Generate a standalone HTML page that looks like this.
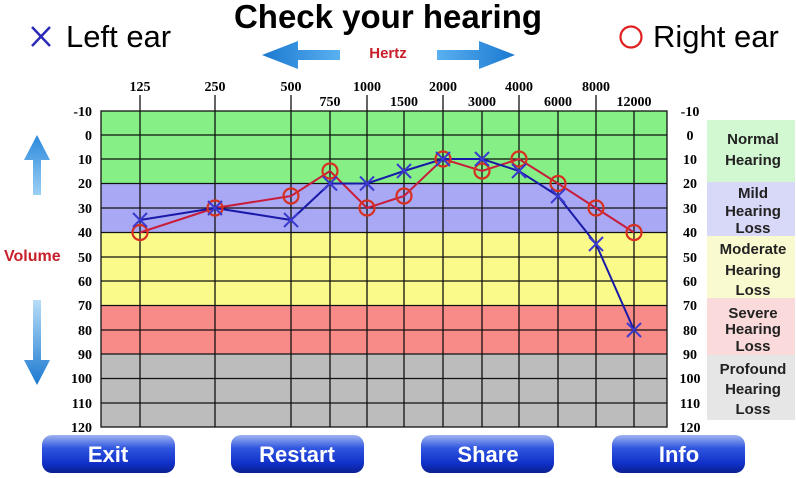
<!DOCTYPE html>
<html><head><meta charset="utf-8"><style>
html,body{margin:0;padding:0;background:#fff;}
svg{display:block;}
</style></head><body>
<svg width="796" height="478" viewBox="0 0 796 478" xmlns="http://www.w3.org/2000/svg">
<defs>
<linearGradient id="btn" x1="0" y1="0" x2="0" y2="1">
<stop offset="0" stop-color="#9fb4f0"/><stop offset="0.35" stop-color="#2f55e0"/><stop offset="0.75" stop-color="#1030c8"/><stop offset="1" stop-color="#0a1f90"/>
</linearGradient>
<linearGradient id="arr" x1="0" y1="0" x2="1" y2="0">
<stop offset="0" stop-color="#1a78d0"/><stop offset="1" stop-color="#5ab0f0"/>
</linearGradient>
<linearGradient id="arr2" x1="0" y1="0" x2="1" y2="0">
<stop offset="0" stop-color="#5ab0f0"/><stop offset="1" stop-color="#1a78d0"/>
</linearGradient>
<linearGradient id="arrv" x1="0" y1="0" x2="0" y2="1">
<stop offset="0" stop-color="#2a88dc"/><stop offset="1" stop-color="#9cd0f5"/>
</linearGradient>
<linearGradient id="arrv2" x1="0" y1="0" x2="0" y2="1">
<stop offset="0" stop-color="#b8def8"/><stop offset="1" stop-color="#1a78d0"/>
</linearGradient>
</defs>
<g font-family="Liberation Sans, sans-serif">
<text x="388" y="28" text-anchor="middle" font-size="33" font-weight="bold">Check your hearing</text>
<text x="388" y="58" text-anchor="middle" font-size="15" font-weight="bold" fill="#c8202a">Hertz</text>
<text x="66" y="47" font-size="31">Left ear</text>
<text x="653" y="47" font-size="31">Right ear</text>
<text x="4" y="261" font-size="16" font-weight="bold" fill="#c8202a">Volume</text>
</g>
<g stroke="#2b2bb8" stroke-width="2.5"><line x1="32" y1="27" x2="50" y2="46"/><line x1="50" y1="27" x2="32" y2="46"/></g>
<circle cx="631" cy="37" r="10.5" fill="none" stroke="#e02020" stroke-width="2.2"/>
<polygon points="262,55 298,41 298,50 340,50 340,60 298,60 298,69" fill="url(#arr)"/>
<polygon points="515,55 479,41 479,50 437,50 437,60 479,60 479,69" fill="url(#arr2)"/>
<polygon points="37,135 50,160 41,160 41,195 33,195 33,160 24,160" fill="url(#arrv)"/>
<polygon points="37,385 50,360 41,360 41,300 33,300 33,360 24,360" fill="url(#arrv2)"/>
<rect x="101" y="111" width="566" height="72.5" fill="#86f086"/>
<rect x="101" y="183.5" width="566" height="49" fill="#a8a8f4"/>
<rect x="101" y="232.5" width="566" height="73" fill="#fafa8a"/>
<rect x="101" y="305.5" width="566" height="48.5" fill="#f88a88"/>
<rect x="101" y="354" width="566" height="73" fill="#bcbcbc"/>
<g stroke="#111" stroke-width="1.3" fill="none">
<rect x="101" y="111" width="566" height="316"/>
<line x1="101" y1="135" x2="667" y2="135"/><line x1="101" y1="159" x2="667" y2="159"/>
<line x1="101" y1="183.5" x2="667" y2="183.5"/><line x1="101" y1="208" x2="667" y2="208"/>
<line x1="101" y1="232.5" x2="667" y2="232.5"/><line x1="101" y1="257" x2="667" y2="257"/>
<line x1="101" y1="281" x2="667" y2="281"/><line x1="101" y1="305.5" x2="667" y2="305.5"/>
<line x1="101" y1="330" x2="667" y2="330"/><line x1="101" y1="354" x2="667" y2="354"/>
<line x1="101" y1="378.5" x2="667" y2="378.5"/><line x1="101" y1="403" x2="667" y2="403"/>
<line x1="140" y1="95" x2="140" y2="427"/><line x1="215" y1="95" x2="215" y2="427"/>
<line x1="291" y1="95" x2="291" y2="427"/><line x1="330" y1="111" x2="330" y2="427"/>
<line x1="367" y1="95" x2="367" y2="427"/><line x1="404" y1="111" x2="404" y2="427"/>
<line x1="443" y1="95" x2="443" y2="427"/><line x1="482" y1="111" x2="482" y2="427"/>
<line x1="519" y1="95" x2="519" y2="427"/><line x1="558" y1="111" x2="558" y2="427"/>
<line x1="596" y1="95" x2="596" y2="427"/><line x1="634" y1="111" x2="634" y2="427"/>
</g>
<g font-family="Liberation Serif, serif" font-weight="bold" font-size="14" text-anchor="middle">
<text x="140" y="91">125</text><text x="215" y="91">250</text><text x="291" y="91">500</text><text x="367" y="91">1000</text><text x="443" y="91">2000</text><text x="519" y="91">4000</text><text x="596" y="91">8000</text>
<text x="330" y="106">750</text><text x="404" y="106">1500</text><text x="482" y="106">3000</text><text x="558" y="106">6000</text><text x="634" y="106">12000</text>
</g>
<g font-family="Liberation Serif, serif" font-weight="bold" font-size="14" text-anchor="end">
<text x="92" y="116">-10</text><text x="92" y="140">0</text><text x="92" y="164">10</text><text x="92" y="188">20</text><text x="92" y="213">30</text><text x="92" y="237">40</text><text x="92" y="262">50</text><text x="92" y="286">60</text><text x="92" y="310">70</text><text x="92" y="335">80</text><text x="92" y="359">90</text><text x="92" y="383">100</text><text x="92" y="408">110</text><text x="92" y="432">120</text>
</g>
<g font-family="Liberation Serif, serif" font-weight="bold" font-size="14" text-anchor="middle">
<text x="690" y="116">-10</text><text x="690" y="140">0</text><text x="690" y="164">10</text><text x="690" y="188">20</text><text x="690" y="213">30</text><text x="690" y="237">40</text><text x="690" y="262">50</text><text x="690" y="286">60</text><text x="690" y="310">70</text><text x="690" y="335">80</text><text x="690" y="359">90</text><text x="690" y="383">100</text><text x="690" y="408">110</text><text x="690" y="432">120</text>
</g>
<rect x="707" y="120" width="88" height="62" fill="#d2f8d2"/>
<rect x="707" y="182" width="88" height="54" fill="#d8d8f8"/>
<rect x="707" y="236" width="88" height="62" fill="#fafad0"/>
<rect x="707" y="298" width="88" height="57" fill="#fadada"/>
<rect x="707" y="355" width="88" height="65" fill="#e6e6e6"/>
<g font-family="Liberation Sans, sans-serif" font-weight="bold" font-size="15" text-anchor="middle" fill="#222">
<text x="753" y="144">Normal</text><text x="753" y="165">Hearing</text>
<text x="753" y="198">Mild</text><text x="753" y="216">Hearing</text><text x="753" y="233">Loss</text>
<text x="753" y="254">Moderate</text><text x="753" y="275">Hearing</text><text x="753" y="295">Loss</text>
<text x="753" y="318">Severe</text><text x="753" y="334">Hearing</text><text x="753" y="351">Loss</text>
<text x="753" y="374">Profound</text><text x="753" y="394">Hearing</text><text x="753" y="414">Loss</text>
</g>
<polyline fill="none" stroke="#c81e3c" stroke-width="2" points="140,232.5 215,208 291,196 330,171 367,208 404,196 443,159 482,171 519,159 558,183.5 596,208 634,232.5"/>
<polyline fill="none" stroke="#1a1aa8" stroke-width="2" points="140,220 215,208 291,220 330,183.5 367,183.5 404,171 443,159 482,159 519,171 558,196 596,244 634,330"/>
<g fill="none" stroke="#d83020" stroke-width="2.2">
<circle cx="140" cy="232.5" r="7.5"/><circle cx="215" cy="208" r="7.5"/><circle cx="291" cy="196" r="7.5"/><circle cx="330" cy="171" r="7.5"/><circle cx="367" cy="208" r="7.5"/><circle cx="404" cy="196" r="7.5"/><circle cx="443" cy="159" r="7.5"/><circle cx="482" cy="171" r="7.5"/><circle cx="519" cy="159" r="7.5"/><circle cx="558" cy="183.5" r="7.5"/><circle cx="596" cy="208" r="7.5"/><circle cx="634" cy="232.5" r="7.5"/>
</g>
<g stroke="#3a3ad0" stroke-width="2">
<path d="M133,213l14,14M147,213l-14,14"/><path d="M208,201l14,14M222,201l-14,14"/><path d="M284,213l14,14M298,213l-14,14"/><path d="M323,176.5l14,14M337,176.5l-14,14"/><path d="M360,176.5l14,14M374,176.5l-14,14"/><path d="M397,164l14,14M411,164l-14,14"/><path d="M436,152l14,14M450,152l-14,14"/><path d="M475,152l14,14M489,152l-14,14"/><path d="M512,164l14,14M526,164l-14,14"/><path d="M551,189l14,14M565,189l-14,14"/><path d="M589,237l14,14M603,237l-14,14"/><path d="M627,323l14,14M641,323l-14,14"/>
</g>
<g font-family="Liberation Sans, sans-serif" font-weight="bold" font-size="22" text-anchor="middle" fill="#fff">
<rect x="42" y="435" width="133" height="38" rx="10" fill="url(#btn)"/><text x="108" y="462">Exit</text>
<rect x="231" y="435" width="133" height="38" rx="10" fill="url(#btn)"/><text x="297" y="462">Restart</text>
<rect x="421" y="435" width="133" height="38" rx="10" fill="url(#btn)"/><text x="488" y="462">Share</text>
<rect x="612" y="435" width="133" height="38" rx="10" fill="url(#btn)"/><text x="679" y="462">Info</text>
</g>
</svg>
</body></html>
